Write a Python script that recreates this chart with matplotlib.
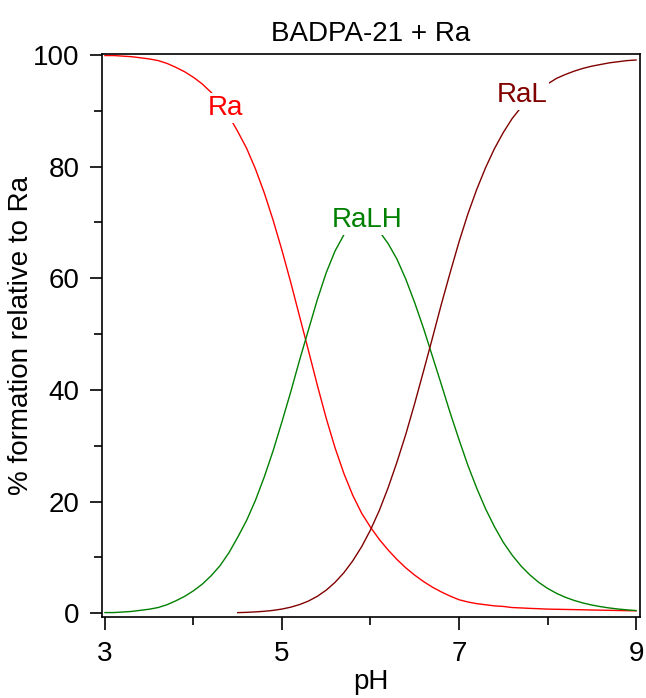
import numpy as np
import matplotlib
matplotlib.use("Agg")
import matplotlib.pyplot as plt

plt.rcParams["font.family"] = ["Liberation Sans", "DejaVu Sans"]

# pH grid (0.1 steps) and % formation
ph = np.round(np.arange(3.0, 9.0001, 0.1), 1)

ra = [99.9, 99.9, 99.8, 99.7, 99.5, 99.3, 99.0, 98.5, 97.8, 97.0,
      96.0, 94.8, 93.3, 91.5, 89.1, 86.3, 83.3, 79.6, 75.3, 70.4,
      65.0, 59.2, 53.1, 47.0, 40.8, 34.9, 29.6, 25.0, 21.1, 17.9,
      15.4, 13.2, 11.3, 9.6, 8.1, 6.8, 5.65, 4.65, 3.8, 3.05,
      2.4, 2.0, 1.7, 1.5, 1.3, 1.2, 1.0, 0.93, 0.85, 0.79,
      0.72, 0.69, 0.66, 0.63, 0.60, 0.56, 0.53, 0.50, 0.47, 0.44,
      0.42]

ralh = [0.1, 0.1, 0.2, 0.3, 0.5, 0.7, 1.0, 1.5, 2.2, 3.0,
        4.0, 5.2, 6.7, 8.5, 10.8, 13.6, 16.6, 20.2, 24.4, 29.1,
        34.3, 39.7, 45.4, 50.8, 56.2, 61.0, 64.9, 67.8, 69.5, 70.2,
        69.7, 68.4, 66.2, 63.4, 59.8, 55.6, 51.0, 46.0, 41.0, 35.9,
        31.1, 26.5, 22.4, 18.7, 15.5, 12.7, 10.4, 8.46, 6.86, 5.52,
        4.44, 3.56, 2.85, 2.28, 1.82, 1.45, 1.16, 0.92, 0.73, 0.58,
        0.46]

# RaL only drawn from pH 4.5
ph_ral = np.round(np.arange(4.5, 9.0001, 0.1), 1)
ral = [0.09, 0.14, 0.22, 0.33, 0.49,
       0.73, 1.07, 1.54, 2.17, 3.02, 4.12, 5.52, 7.25, 9.38, 11.9,
       14.9, 18.4, 22.5, 27.1, 32.1, 37.6, 43.4, 49.3, 55.3, 61.0,
       66.5, 71.5, 75.9, 79.8, 83.2, 86.1, 88.6, 90.6, 92.3, 93.7,
       94.8, 95.8, 96.5, 97.1, 97.6, 98.0, 98.3, 98.6, 98.8, 99.0,
       99.1]

# curve labels (text, pH, %, colour)
labels = [("Ra", 4.36, 90.5, "#ff0000"),
          ("RaLH", 5.96, 70.4, "#008000"),
          ("RaL", 7.71, 92.8, "#800000")]

fig = plt.figure(figsize=(6.46, 6.98), dpi=100)
ax = fig.add_axes([0.1574, 0.116, 0.8333, 0.806])

ax.plot(ph, ra, color="#ff0000", lw=1.0)
ax.plot(ph, ralh, color="#008000", lw=1.0)
ax.plot(ph_ral, ral, color="#800000", lw=1.0)

for txt, x, y, c in labels:
    ax.text(x, y, txt, color=c, fontsize=20, ha="center", va="center",
            bbox=dict(facecolor="white", edgecolor="none", pad=1.5))

ax.set_xlim(2.963, 9.045)
ax.set_ylim(-0.7, 100.1)
ax.set_xticks([3, 5, 7, 9])
ax.set_xticks([4, 6, 8], minor=True)
ax.set_yticks([0, 20, 40, 60, 80, 100])
ax.set_yticks([10, 30, 50, 70, 90], minor=True)
ax.tick_params(which="major", direction="out", length=9, width=1.2,
               labelsize=20)
ax.tick_params(axis="x", which="major", pad=8)
ax.tick_params(axis="y", which="major", pad=7)
ax.tick_params(which="minor", direction="out", length=5.5, width=1.2)
for s in ax.spines.values():
    s.set_linewidth(1.2)

ax.set_xlabel("pH", fontsize=20, labelpad=2)
ax.set_ylabel("% formation relative to Ra", fontsize=20, labelpad=-1)
ax.set_title("BADPA-21 + Ra", fontsize=20, pad=10)

fig.savefig("out.png", dpi=100)
